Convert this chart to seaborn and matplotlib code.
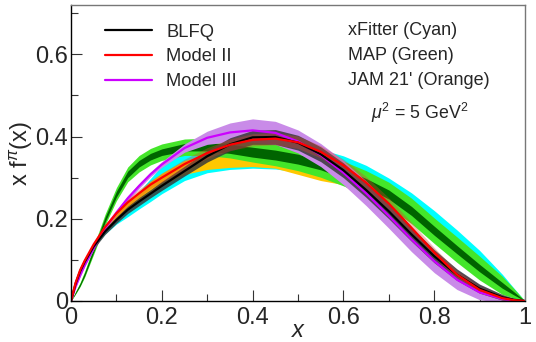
"""Pion valence PDF comparison at mu^2 = 5 GeV^2 (BLFQ vs global fits)."""

import matplotlib

matplotlib.use("Agg")
import matplotlib.pyplot as plt
import numpy as np
import pandas as pd
import seaborn as sns

# x grid shared by every curve
x_vals = [0, 0.01, 0.02, 0.03, 0.05, 0.075, 0.1, 0.125, 0.15, 0.175, 0.2, 0.25, 0.3, 0.35,
          0.4, 0.45, 0.5, 0.55, 0.6, 0.65, 0.7, 0.75, 0.8, 0.85, 0.9, 0.95, 0.975, 1.0]

# model curves, x f(x), with half-widths of their bands
blfq = [0, 0.042, 0.072, 0.095, 0.133, 0.169, 0.197, 0.222, 0.242, 0.261, 0.280, 0.316, 0.352,
        0.381, 0.398, 0.399, 0.385, 0.357, 0.318, 0.270, 0.218, 0.162, 0.109, 0.064, 0.030,
        0.009, 0.003, 0]
blfq_err = [0, 0.003, 0.004, 0.005, 0.006, 0.007, 0.008, 0.009, 0.010, 0.010, 0.011, 0.012, 0.014,
            0.016, 0.017, 0.018, 0.018, 0.018, 0.018, 0.018, 0.018, 0.017, 0.016, 0.014, 0.011,
            0.007, 0.004, 0]
model2 = [0, 0.044, 0.075, 0.098, 0.138, 0.180, 0.213, 0.240, 0.262, 0.283, 0.300, 0.333, 0.360,
          0.380, 0.392, 0.395, 0.386, 0.363, 0.330, 0.288, 0.237, 0.178, 0.118, 0.064, 0.027,
          0.007, 0.002, 0]
model2_err = [0, 0.003, 0.004, 0.005, 0.006, 0.007, 0.008, 0.009, 0.010, 0.010, 0.011, 0.012,
              0.013, 0.014, 0.015, 0.015, 0.015, 0.015, 0.015, 0.015, 0.014, 0.013, 0.012, 0.010,
              0.008, 0.005, 0.003, 0]
model3 = [0, 0.035, 0.062, 0.087, 0.129, 0.177, 0.215, 0.250, 0.280, 0.308, 0.332, 0.372, 0.397,
          0.410, 0.415, 0.409, 0.388, 0.355, 0.312, 0.262, 0.207, 0.150, 0.097, 0.052, 0.021,
          0.005, 0.001, 0]
model3_err = [0, 0.002, 0.003, 0.004, 0.004, 0.005, 0.005, 0.006, 0.006, 0.006, 0.007, 0.010,
              0.016, 0.023, 0.028, 0.028, 0.028, 0.028, 0.029, 0.030, 0.030, 0.030, 0.028, 0.024,
              0.018, 0.009, 0.004, 0]

# global fits
xfitter = [0, 0.044, 0.074, 0.097, 0.135, 0.170, 0.197, 0.220, 0.245, 0.270, 0.295, 0.328,
           0.345, 0.353, 0.356, 0.354, 0.347, 0.336, 0.320, 0.298, 0.269, 0.232, 0.189, 0.142,
           0.093, 0.043, 0.020, 0]
xfitter_err = [0, 0.001, 0.002, 0.003, 0.004, 0.007, 0.010, 0.015, 0.021, 0.028, 0.034, 0.035,
               0.033, 0.033, 0.033, 0.033, 0.033, 0.033, 0.033, 0.032, 0.030, 0.031, 0.031,
               0.031, 0.030, 0.022, 0.012, 0]
jam = [0, 0.043, 0.073, 0.097, 0.136, 0.175, 0.207, 0.232, 0.255, 0.277, 0.296, 0.325, 0.337,
       0.342, 0.344, 0.340, 0.326, 0.310, 0.295, 0.250, 0.205, 0.155, 0.105, 0.062, 0.030,
       0.009, 0.003, 0]
jam_err = [0, 0.002, 0.003, 0.004, 0.005, 0.006, 0.008, 0.010, 0.012, 0.014, 0.015, 0.017, 0.017,
           0.017, 0.017, 0.017, 0.018, 0.017, 0.012, 0.012, 0.012, 0.012, 0.011, 0.009, 0.007,
           0.004, 0.002, 0]
map_fit = [0, 0.020, 0.040, 0.065, 0.124, 0.198, 0.260, 0.308, 0.334, 0.351, 0.362, 0.374, 0.375,
           0.370, 0.362, 0.355, 0.345, 0.330, 0.310, 0.287, 0.259, 0.219, 0.171, 0.125, 0.080,
           0.038, 0.019, 0]
map_err = [0, 0.003, 0.005, 0.007, 0.010, 0.013, 0.016, 0.018, 0.020, 0.020, 0.020, 0.020, 0.021,
           0.022, 0.024, 0.026, 0.028, 0.029, 0.030, 0.030, 0.030, 0.031, 0.031, 0.031, 0.029,
           0.022, 0.012, 0]
map_core_err = [0, 0.002, 0.003, 0.004, 0.005, 0.006, 0.007, 0.008, 0.008, 0.008, 0.008, 0.009,
                0.010, 0.011, 0.012, 0.012, 0.012, 0.011, 0.011, 0.011, 0.011, 0.011, 0.011,
                0.010, 0.009, 0.007, 0.004, 0]

model_names = ["BLFQ", "Model II", "Model III"]
right_notes = ["xFitter (Cyan)", "MAP (Green)", "JAM 21' (Orange)"]

sns.set_style("ticks")
plt.rcParams["font.family"] = ["Liberation Sans", "DejaVu Sans"]
plt.rcParams["mathtext.fontset"] = "custom"
plt.rcParams["mathtext.rm"] = "Liberation Sans"
plt.rcParams["mathtext.it"] = "Liberation Sans:italic"

fig = plt.figure(figsize=(5.36, 3.42), dpi=100)
ax = fig.add_axes([0.1325, 0.1199, 0.847, 0.8655])

x = np.array(x_vals)


def band(center, err, color, z, **kw):
    c = np.array(center)
    e = np.array(err)
    ax.fill_between(x, c - e, c + e, color=color, lw=0, zorder=z, **kw)


band(xfitter, xfitter_err, "#00ffff", 1.0)
band(jam, jam_err, "#ffc800", 1.1)
band(map_fit, map_err, "#44e62a", 1.2)
band(map_fit, map_core_err, "#006400", 1.3)
band(model3, model3_err, "#c98be8", 1.4)
band(blfq, blfq_err, "#3a3a3a", 1.5, alpha=0.85)
band(model2, model2_err, "#d9442a", 1.6, alpha=0.35)

lines = pd.DataFrame({
    "x": np.tile(x, 3),
    "y": blfq + model2 + model3,
    "model": np.repeat(model_names, len(x)),
})
sns.lineplot(
    data=lines,
    x="x",
    y="y",
    hue="model",
    hue_order=["Model III", "BLFQ", "Model II"],
    palette={"BLFQ": "black", "Model II": "#ff0000", "Model III": "#cc00ff"},
    linewidth=1.6,
    ax=ax,
)
handles, labels = ax.get_legend_handles_labels()
order = [labels.index(name) for name in model_names]
ax.legend(
    [handles[i] for i in order],
    model_names,
    loc="upper left",
    bbox_to_anchor=(0.075, 0.937),
    borderaxespad=0,
    borderpad=0,
    frameon=False,
    fontsize=13.2,
    handlelength=2.55,
    handletextpad=0.8,
    labelspacing=0.42,
)

for i, note in enumerate(right_notes):
    ax.text(0.61, 0.9155 - 0.0845 * i, note, transform=ax.transAxes, fontsize=13, va="center")
ax.text(0.769, 0.635, r"$\mu^2$ = 5 GeV$^2$", transform=ax.transAxes, fontsize=12.8,
        ha="center", va="center")

ax.set(xlim=(0, 1), ylim=(0, 0.72))
ax.set_xticks([0, 0.2, 0.4, 0.6, 0.8, 1.0])
ax.set_xticklabels(["0", "0.2", "0.4", "0.6", "0.8", "1"])
ax.set_yticks([0, 0.2, 0.4, 0.6])
ax.set_yticklabels(["0", "0.2", "0.4", "0.6"])
ax.set_xticks(np.arange(0.1, 1.0, 0.2), minor=True)
ax.set_yticks([0.1, 0.3, 0.5, 0.7], minor=True)
ax.tick_params(which="both", direction="in", labelsize=17, width=0.8, color="#333333")
ax.tick_params(which="major", length=8)
ax.tick_params(which="minor", length=5)
ax.tick_params(axis="y", pad=2)
ax.tick_params(axis="x", pad=4)
ax.set_xlabel("x", fontsize=17, style="italic", labelpad=-7)
ax.set_ylabel(r"x f$^{\pi}$(x)", fontsize=17, labelpad=0)
for side in ("top", "right"):
    ax.spines[side].set_color("#777777")
for spine in ax.spines.values():
    spine.set_linewidth(1.0)
ax.spines["left"].set_color("black")
ax.spines["bottom"].set_color("black")

fig.savefig("out.png", dpi=100)
